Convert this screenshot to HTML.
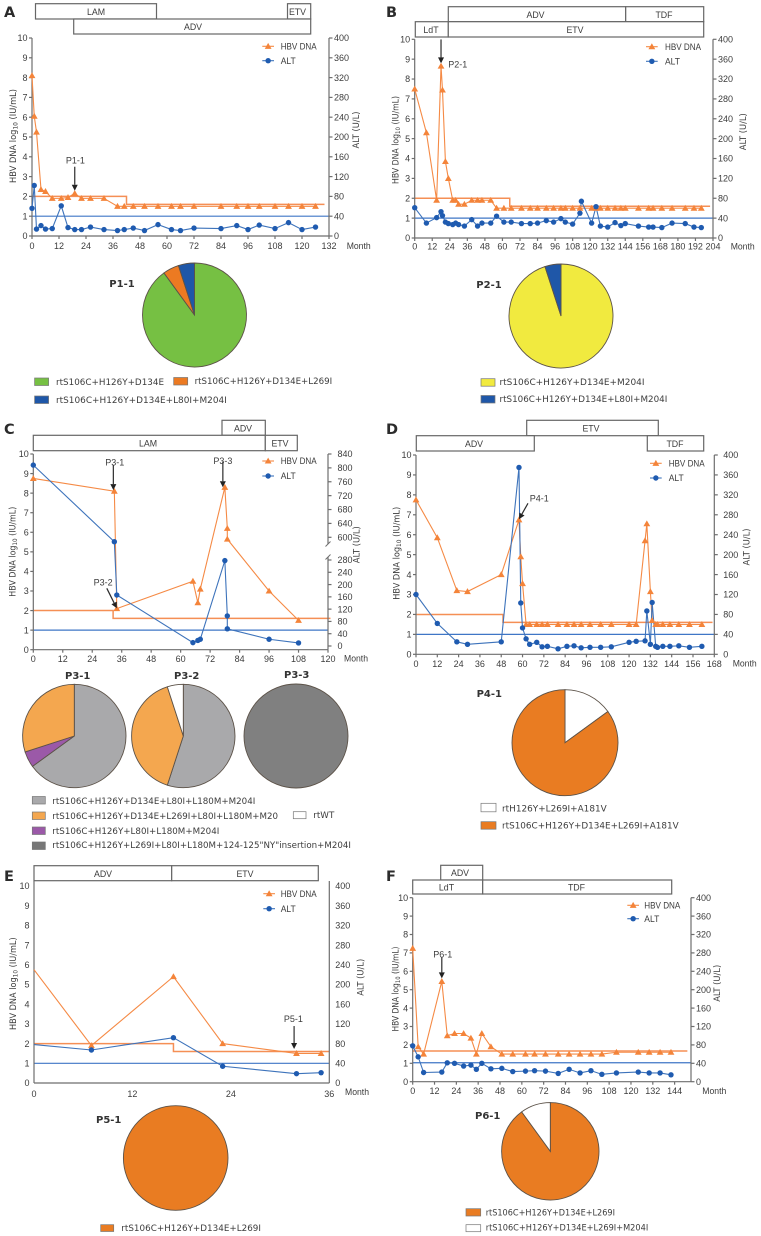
<!DOCTYPE html>
<html lang="en">
<head>
<meta charset="utf-8">
<title>HBV DNA and ALT time courses with resistance mutation pies</title>
<style>
html,body{margin:0;padding:0;background:#fff;}
svg{display:block;filter:blur(0.3px);}
text{font-family:"DejaVu Sans","Liberation Sans",sans-serif;fill:#3c3c3c;}
.box{fill:#fff;stroke:#666;stroke-width:1.2;}
.tx{font-family:"Liberation Sans",sans-serif;font-size:8.8px;text-anchor:middle;}
.ax{font-family:"Liberation Sans",sans-serif;font-size:9px;}
.letter{font-size:14.5px;font-weight:bold;fill:#2b2b2b;}
.pt{font-size:10px;font-weight:bold;text-anchor:middle;fill:#333;}
.lg{font-size:9px;}
.sw{stroke:#777;stroke-width:.7;}
</style>
</head>
<body>
<svg id="fig" width="761" height="1236" viewBox="0 0 761 1236" xmlns="http://www.w3.org/2000/svg">
  <rect x="0" y="0" width="761" height="1236" fill="#fff"/>

  <text class="letter" x="4" y="17">A</text>
  <text class="letter" x="386" y="17">B</text>
  <text class="letter" x="4" y="434">C</text>
  <text class="letter" x="386" y="434">D</text>
  <text class="letter" x="4" y="881">E</text>
  <text class="letter" x="386" y="881">F</text>

  <!-- Treatment bars -->
  <g>
    <rect class="box" x="35.5" y="3.7" width="121" height="15.3"/>
    <text class="tx" x="96" y="14.8">LAM</text>
    <rect class="box" x="287.5" y="3.7" width="23.2" height="15.3"/>
    <text class="tx" x="297.5" y="14.8">ETV</text>
    <rect class="box" x="73.7" y="19" width="237" height="15"/>
    <text class="tx" x="193" y="30.2">ADV</text>
  </g>
  <g>
    <rect class="box" x="448.3" y="6.7" width="177.4" height="15"/>
    <text class="tx" x="535.5" y="17.8">ADV</text>
    <rect class="box" x="625.7" y="6.7" width="78" height="15"/>
    <text class="tx" x="664" y="17.8">TDF</text>
    <rect class="box" x="415.3" y="21.7" width="33" height="15.3"/>
    <text class="tx" x="431" y="32.8">LdT</text>
    <rect class="box" x="448.3" y="21.7" width="255.4" height="15.3"/>
    <text class="tx" x="575" y="32.8">ETV</text>
  </g>
  <g>
    <rect class="box" x="222" y="420.3" width="43.3" height="15"/>
    <text class="tx" x="243" y="431.3">ADV</text>
    <rect class="box" x="33.3" y="435.3" width="232" height="15.4"/>
    <text class="tx" x="148" y="446.3">LAM</text>
    <rect class="box" x="265.3" y="435.3" width="32" height="15.4"/>
    <text class="tx" x="280" y="446.3">ETV</text>
  </g>
  <g>
    <rect class="box" x="526.7" y="420.3" width="131.6" height="15.4"/>
    <text class="tx" x="591" y="431.3">ETV</text>
    <rect class="box" x="416.3" y="435.7" width="118" height="15.3"/>
    <text class="tx" x="474" y="447.2">ADV</text>
    <rect class="box" x="647.3" y="435.7" width="56.4" height="15.3"/>
    <text class="tx" x="675" y="447.2">TDF</text>
  </g>
  <g>
    <rect class="box" x="34" y="865.7" width="137.7" height="15"/>
    <text class="tx" x="103" y="877">ADV</text>
    <rect class="box" x="171.7" y="865.7" width="146.6" height="15"/>
    <text class="tx" x="245" y="877">ETV</text>
  </g>
  <g>
    <rect class="box" x="440.7" y="865.3" width="42" height="14.7"/>
    <text class="tx" x="460" y="876">ADV</text>
    <rect class="box" x="412.7" y="880" width="70" height="14"/>
    <text class="tx" x="446.5" y="890.3">LdT</text>
    <rect class="box" x="482.7" y="880" width="189" height="14"/>
    <text class="tx" x="576.5" y="890.3">TDF</text>
  </g>

  <!-- Pie titles -->
  <text class="pt" x="122" y="287">P1-1</text>
  <text class="pt" x="489" y="288">P2-1</text>
  <text class="pt" x="77.7" y="679">P3-1</text>
  <text class="pt" x="186.7" y="679">P3-2</text>
  <text class="pt" x="296.7" y="678">P3-3</text>
  <text class="pt" x="489.3" y="697">P4-1</text>
  <text class="pt" x="108.7" y="1123">P5-1</text>
  <text class="pt" x="487.7" y="1119">P6-1</text>

  <!-- Pie legends -->
  <g>
    <rect class="sw" x="34.6" y="378" width="14" height="7.5" fill="#76c043"/>
    <text class="lg" x="56" y="385" textLength="108" lengthAdjust="spacingAndGlyphs">rtS106C+H126Y+D134E</text>
    <rect class="sw" x="173.7" y="377.5" width="14" height="7.5" fill="#ec7a22"/>
    <text class="lg" x="194.6" y="384" textLength="137.6" lengthAdjust="spacingAndGlyphs">rtS106C+H126Y+D134E+L269I</text>
    <rect class="sw" x="34.6" y="396" width="14" height="7.5" fill="#1f57a8"/>
    <text class="lg" x="56" y="403" textLength="170.8" lengthAdjust="spacingAndGlyphs">rtS106C+H126Y+D134E+L80I+M204I</text>
  </g>
  <g>
    <rect class="sw" x="481" y="378.7" width="14" height="7.5" fill="#f1ea3f"/>
    <text class="lg" x="499.5" y="385" textLength="145" lengthAdjust="spacingAndGlyphs">rtS106C+H126Y+D134E+M204I</text>
    <rect class="sw" x="481" y="395.5" width="14" height="7.5" fill="#1f57a8"/>
    <text class="lg" x="499.5" y="402" textLength="167.8" lengthAdjust="spacingAndGlyphs">rtS106C+H126Y+D134E+L80I+M204I</text>
  </g>
  <g>
    <rect class="sw" x="32.3" y="796.5" width="13" height="7.5" fill="#a9a9ab"/>
    <text class="lg" x="52.3" y="804" textLength="203" lengthAdjust="spacingAndGlyphs">rtS106C+H126Y+D134E+L80I+L180M+M204I</text>
    <rect class="sw" x="32.3" y="812" width="13" height="7.5" fill="#f4a74f"/>
    <text class="lg" x="52.3" y="819" textLength="225.7" lengthAdjust="spacingAndGlyphs">rtS106C+H126Y+D134E+L269I+L80I+L180M+M20</text>
    <rect class="sw" x="293.3" y="811.7" width="12.7" height="7" fill="#fff"/>
    <text class="lg" x="313.3" y="818" textLength="21" lengthAdjust="spacingAndGlyphs">rtWT</text>
    <rect class="sw" x="32.3" y="827" width="13" height="7.5" fill="#9b59a8"/>
    <text class="lg" x="52.3" y="834" textLength="167" lengthAdjust="spacingAndGlyphs">rtS106C+H126Y+L80I+L180M+M204I</text>
    <rect class="sw" x="32.3" y="842" width="13" height="7.5" fill="#777"/>
    <text class="lg" x="52.3" y="848" textLength="298.7" lengthAdjust="spacingAndGlyphs">rtS106C+H126Y+L269I+L80I+L180M+124-125"NY"insertion+M204I</text>
  </g>
  <g>
    <rect class="sw" x="481" y="803.3" width="15" height="8.5" fill="#fff"/>
    <text class="lg" x="502" y="811.7" textLength="104.7" lengthAdjust="spacingAndGlyphs">rtH126Y+L269I+A181V</text>
    <rect class="sw" x="481" y="821.7" width="15" height="7.5" fill="#e97c22"/>
    <text class="lg" x="502" y="828.7" textLength="176.7" lengthAdjust="spacingAndGlyphs">rtS106C+H126Y+D134E+L269I+A181V</text>
  </g>
  <g>
    <rect class="sw" x="100.7" y="1224.7" width="13" height="6.8" fill="#e97c22"/>
    <text class="lg" x="121.3" y="1231" textLength="139.7" lengthAdjust="spacingAndGlyphs">rtS106C+H126Y+D134E+L269I</text>
  </g>
  <g>
    <rect class="sw" x="466" y="1208.7" width="14.7" height="7.3" fill="#e97c22"/>
    <text class="lg" x="485.7" y="1215.3" textLength="129.3" lengthAdjust="spacingAndGlyphs">rtS106C+H126Y+D134E+L269I</text>
    <rect class="sw" x="466" y="1224.7" width="14.7" height="7" fill="#fff"/>
    <text class="lg" x="485.7" y="1230.7" textLength="162.6" lengthAdjust="spacingAndGlyphs">rtS106C+H126Y+D134E+L269I+M204I</text>
  </g>
</svg>

<script>
// ---------- Axis tick values ----------
const hbvTicks = [0,1,2,3,4,5,6,7,8,9,10];
const altTicks400 = [0,40,80,120,160,200,240,280,320,360,400];
const altTicksLowC = [0,40,80,120,160,200,240,280];
const altTicksHighC = [600,640,680,720,760,800,840];
const monthTicksA = [0,12,24,36,48,60,72,84,96,108,120,132];
const monthTicksB = [0,12,24,36,48,60,72,84,96,108,120,132,144,156,168,180,192,204];
const monthTicksC = [0,12,24,36,48,60,72,84,96,108,120];
const monthTicksD = [0,12,24,36,48,60,72,84,96,108,120,132,144,156,168];
const monthTicksE = [0,12,24,36];
const monthTicksF = [0,12,24,36,48,60,72,84,96,108,120,132,144];

// ---------- Panel A ----------
const monthsA = [0,1,2,4,6,9,13,16,19,22,26,32,38,41,45,50,56,62,66,72,84,91,96,101,108,114,120,126];
const hbvA = [8.1,6.05,5.25,2.35,2.25,1.9,1.9,1.95,2.15,1.9,1.9,1.9,1.5,1.5,1.5,1.5,1.5,1.5,1.5,1.5,1.5,1.5,1.5,1.5,1.5,1.5,1.5,1.5];
const altMonthsA = [0,1,2,4,6,9,13,16,19,22,26,32,38,41,45,50,56,62,66,72,84,91,96,101,108,114,120,126];
const altA = [56,102,14,21,14,15,61,17,13,13,18,13,11,13,16,11,23,13,11,16,15,21,13,22,15,27,13,18];
const refMonthsA = [0,42,42,130];
const refHbvA = [2,2,1.6,1.6];
const uln = 1;

// ---------- Panel B ----------
const monthsB = [0,8,15,18,19,21,23,26,28,30,34,39,43,46,52,56,61,66,73,79,84,90,95,100,103,108,113,121,124,127,132,137,141,144,153,160,163,169,176,185,191,196];
const hbvB = [7.5,5.3,1.9,8.65,7.45,3.85,3.0,1.9,1.9,1.7,1.7,1.9,1.9,1.9,1.9,1.5,1.5,1.5,1.5,1.5,1.5,1.5,1.5,1.5,1.5,1.5,1.5,1.5,1.5,1.5,1.5,1.5,1.5,1.5,1.5,1.5,1.5,1.5,1.5,1.5,1.5,1.5];
const altMonthsB = [0,8,15,18,19,21,23,26,28,30,34,39,43,46,52,56,61,66,73,79,84,90,95,100,103,108,113,114,121,124,127,132,137,141,144,153,160,163,169,176,185,191,196];
const altB = [61,30,41,53,45,32,29,27,30,27,24,37,24,30,30,44,32,32,29,29,30,35,32,39,32,28,50,74,30,63,24,22,31,25,29,24,22,22,21,30,29,22,21];
const refMonthsB = [0,65,65,202];
const refHbvB = [2,2,1.6,1.6];

// ---------- Panel C ----------
const monthsC = [0,33,34,65,67,68,78,79,79,96,108];
const hbvC = [8.75,8.1,2.1,3.5,2.4,3.1,8.3,6.2,5.65,3.0,1.5];
const altMonthsC = [0,33,34,65,67,68,78,79,79,96,108];
const altC = [808,538,166,11,18,22,278,98,56,22,10];
const refMonthsC = [0,32.5,32.5,121];
const refHbvC = [2,2,1.6,1.6];

// ---------- Panel D ----------
const monthsD = [0,12,23,29,48,58,59,60,62,64,68,71,74,80,85,89,93,98,104,110,120,124,129,130,132,133,135,136,139,143,148,154,161];
const hbvD = [7.75,5.85,3.2,3.15,4.0,6.75,4.9,3.55,1.5,1.5,1.5,1.5,1.5,1.5,1.5,1.5,1.5,1.5,1.5,1.5,1.5,1.5,5.7,6.55,3.15,1.7,1.5,1.5,1.5,1.5,1.5,1.5,1.5];
const altMonthsD = [0,12,23,29,48,58,59,60,62,64,68,71,74,80,85,89,93,98,104,110,120,124,129,130,132,133,135,136,139,143,148,154,161];
const altD = [120,62,25,20,25,375,103,53,31,20,24,15,16,11,16,17,13,14,14,15,24,26,27,87,20,104,16,14,16,16,17,14,16];
const refMonthsD = [0,49,49,167];
const refHbvD = [2,2,1.6,1.6];

// ---------- Panel E ----------
const monthsE = [0,7,17,23,32,35];
const hbvE = [5.75,1.9,5.4,2.0,1.5,1.5];
const altMonthsE = [0,7,17,23,32,35];
const altE = [78,67,92,34,19,21];
const refMonthsE = [0,17,17,36];
const refHbvE = [2,2,1.6,1.6];

// ---------- Panel F ----------
const monthsF = [0,3,6,16,19,23,28,32,35,38,43,49,55,62,67,73,80,86,92,98,104,112,124,130,136,142];
const hbvF = [7.25,1.9,1.5,5.45,2.5,2.62,2.62,2.37,1.5,2.62,1.9,1.5,1.5,1.5,1.5,1.5,1.5,1.5,1.5,1.5,1.5,1.6,1.6,1.6,1.6,1.6];
const altMonthsF = [0,3,6,16,19,23,28,32,35,38,43,49,55,62,67,73,80,86,92,98,104,112,124,130,136,142];
const altF = [78,54,20,21,41,40,34,36,27,40,28,29,22,23,24,23,18,27,19,24,16,19,21,19,19,15];
const refMonthsF = [0,151];
const refHbvF = [1.67,1.67];

// ---------- Pie shares (percent, clockwise from 12 o'clock) ----------
const pieP11 = [90,5,5];
const pieP21 = [95,5];
const pieP31 = [65,5,30];
const pieP32 = [55,40,5];
const pieP33 = [100];
const pieP41 = [15,85];
const pieP51 = [100];
const pieP61 = [90,10];

const svg = document.getElementById('fig');
const SVGNS = 'http://www.w3.org/2000/svg';
function add(parent, tag, attrs, text) {
  const el = document.createElementNS(SVGNS, tag);
  for (const k in attrs) el.setAttribute(k, attrs[k]);
  if (text !== undefined) el.textContent = text;
  parent.appendChild(el);
  return el;
}

const AXIS = '#6e6e6e';
const AXW = 1.2;
const ORANGE = '#f4843a';
const BLUE = '#1f5bb0';

function linear(d0, d1, r0, r1) {
  return v => r0 + (v - d0) * (r1 - r0) / (d1 - d0);
}
function polyline(scaleX, scaleY, xs, ys) {
  return xs.map((m, i) => scaleX(m).toFixed(2) + ',' + scaleY(ys[i]).toFixed(2)).join(' ');
}
function triangle(x, y) {
  const r = 3.4;
  return [(x) + ',' + (y - r), (x + r) + ',' + (y + r * 0.75), (x - r) + ',' + (y + r * 0.75)].join(' ');
}

function drawPanel(p) {
  const g = add(svg, 'g', {});
  
  

  const sx = linear(0, p.xMax, p.x0, p.x1);
  const sy = linear(0, 10, p.yBottom, p.yTop);
  const sa = p.altScale;

  // reference lines
  const refH = add(g, 'polyline', {points: polyline(sx, sy, p.refMonths, p.refHbv), fill: 'none', stroke: '#f58f55', 'stroke-width': 1.5});
  
  
  const refA = add(g, 'line', {x1: p.x0, x2: p.x1, y1: sy(p.uln), y2: sy(p.uln), stroke: '#3f76c6', 'stroke-width': 1.2});
  
  

  // axes
  const ax = add(g, 'line', {x1: p.x0, x2: p.x1, y1: p.yBottom, y2: p.yBottom, stroke: AXIS, 'stroke-width': AXW});
  
  
  const ay = add(g, 'line', {x1: p.x0, x2: p.x0, y1: p.axisTop, y2: p.yBottom, stroke: AXIS, 'stroke-width': AXW});
  
  

  if (p.breakAxis) {
    const a1 = add(g, 'line', {x1: p.x1, x2: p.x1, y1: p.axisTop, y2: p.breakTop, stroke: AXIS, 'stroke-width': AXW});
    
    
    const a2 = add(g, 'line', {x1: p.x1, x2: p.x1, y1: p.breakBottom, y2: p.yBottom, stroke: AXIS, 'stroke-width': AXW});
    
    
    [p.breakTop, p.breakBottom].forEach(y => {
      const s = add(g, 'line', {x1: p.x1 - 2.5, x2: p.x1 + 2.5, y1: y + 2.5, y2: y - 2.5, stroke: AXIS, 'stroke-width': 1});
      
      
    });
  } else {
    const a3 = add(g, 'line', {x1: p.x1, x2: p.x1, y1: p.axisTop, y2: p.yBottom, stroke: AXIS, 'stroke-width': AXW});
    
    
  }

  // ticks + labels
  p.hbvTicks.forEach(v => {
    if (p.ticks) {
      const t = add(g, 'line', {x1: p.x0 - 3, x2: p.x0, y1: sy(v), y2: sy(v), stroke: AXIS, 'stroke-width': AXW});
      
      
    }
    const l = add(g, 'text', {x: p.x0 - 4.5, y: sy(v) + 3.2, 'text-anchor': 'end', class: 'ax'}, String(v));
    
    
  });
  p.altTicks.forEach(v => {
    if (p.ticks) {
      const t = add(g, 'line', {x1: p.x1, x2: p.x1 + 3.5, y1: sa(v), y2: sa(v), stroke: AXIS, 'stroke-width': AXW});
      
      
    }
    const l = add(g, 'text', {x: p.x1 + p.rightGap, y: sa(v) + 3.2, class: 'ax'}, String(v));
    
    
  });
  p.monthTicks.forEach(v => {
    if (p.ticks) {
      const t = add(g, 'line', {x1: sx(v), x2: sx(v), y1: p.yBottom, y2: p.yBottom + 3, stroke: AXIS, 'stroke-width': AXW});
      
      
    }
    const l = add(g, 'text', {x: sx(v), y: p.xLabelY + 3.2, 'text-anchor': 'middle', class: 'ax'}, String(v));
    
    
  });
  const mo = add(g, 'text', {x: p.monthX, y: p.monthY + 3.2, class: 'ax', textLength: 24, lengthAdjust: 'spacingAndGlyphs'}, 'Month');
  
  

  // axis titles
  const lt = add(g, 'text', {
    x: p.leftTitleX, y: p.leftTitleY, 'text-anchor': 'middle', 'font-size': 9,
    transform: 'rotate(-90 ' + p.leftTitleX + ' ' + p.leftTitleY + ')',
    textLength: p.leftTitleLen, lengthAdjust: 'spacingAndGlyphs'
  });
  
  
  add(lt, 'tspan', {}, 'HBV DNA log');
  add(lt, 'tspan', {'font-size': 6.4, dy: 1.5}, '10');
  add(lt, 'tspan', {dy: -1.5}, ' (IU/mL)');
  const rt = add(g, 'text', {
    x: p.rightTitleX, y: p.rightTitleY, 'text-anchor': 'middle', 'font-size': 9,
    transform: 'rotate(-90 ' + p.rightTitleX + ' ' + p.rightTitleY + ')',
    textLength: 37, lengthAdjust: 'spacingAndGlyphs'
  }, 'ALT (U/L)');
  
  

  // series lines
  const lineH = add(g, 'polyline', {points: polyline(sx, sy, p.months, p.hbv), fill: 'none', stroke: '#f58a45', 'stroke-width': 1.1});
  
  
  const lineA = add(g, 'polyline', {points: polyline(sx, sa, p.altMonths, p.alt), fill: 'none', stroke: '#3d73bb', 'stroke-width': 1.1});
  
  

  // series markers
  p.months.forEach((m, i) => {
    if (p.skipFirstMarker && i === 0) return;
    const t = add(g, 'polygon', {points: triangle(sx(m), sy(p.hbv[i])), fill: ORANGE});
    
    
  });
  p.altMonths.forEach((m, i) => {
    if (p.skipFirstMarker && i === 0) return;
    const c = add(g, 'circle', {cx: sx(m), cy: sa(p.alt[i]), r: 2.7, fill: BLUE});
    
    
  });

  // in-chart legend
  const lh1 = add(g, 'line', {x1: p.legX, x2: p.legX + 11.7, y1: p.legY1, y2: p.legY1, stroke: '#f58a45', 'stroke-width': 1.1});
  
  
  const lh2 = add(g, 'polygon', {points: triangle(p.legX + 5.85, p.legY1), fill: ORANGE});
  
  
  const lh3 = add(g, 'text', {x: p.legText, y: p.legY1 + 3.2, class: 'ax', textLength: 36, lengthAdjust: 'spacingAndGlyphs'}, 'HBV DNA');
  
  
  const la1 = add(g, 'line', {x1: p.legX, x2: p.legX + 11.7, y1: p.legY2, y2: p.legY2, stroke: '#3d73bb', 'stroke-width': 1.1});
  
  
  const la2 = add(g, 'circle', {cx: p.legX + 5.85, cy: p.legY2, r: 2.7, fill: BLUE});
  
  
  const la3 = add(g, 'text', {x: p.legText, y: p.legY2 + 3.2, class: 'ax', textLength: 15, lengthAdjust: 'spacingAndGlyphs'}, 'ALT');
  
  

  // sample arrows, anchored on the sampled HBV point
  p.notes.forEach(n => {
    const tx = sx(n.month) + (n.dxTip || 0);
    const ty = sy(n.value) - n.gap;
    const fx = tx + n.dx, fy = ty + n.dy;
    const len = Math.hypot(n.dx, n.dy);
    const ux = n.dx / len, uy = n.dy / len;
    const h = 6, w = 3;
    const shaft = add(g, 'line', {x1: fx, y1: fy, x2: tx + ux * h, y2: ty + uy * h, stroke: '#2c2c2c', 'stroke-width': 1.2});
    
    
    const bx = tx + ux * h, by = ty + uy * h;
    const head = add(g, 'polygon', {points: tx + ',' + ty + ' ' + (bx - uy * w) + ',' + (by + ux * w) + ' ' + (bx + uy * w) + ',' + (by - ux * w), fill: '#222'});
    
    
    const lab = add(g, 'text', {x: tx + n.labelDx, y: ty + n.labelDy + 3.2, 'text-anchor': 'middle', class: 'ax'}, n.label);
    
    
  });
}

function drawPie(id, shares, colors, cx, cy, r) {
  const g = add(svg, 'g', {});
  
  
  const total = shares.reduce((a, b) => a + b, 0);
  let acc = 0;
  shares.forEach((s, i) => {
    if (s >= total) {
      const whole = add(g, 'circle', {cx: cx, cy: cy, r: r, fill: colors[i], stroke: '#5c5248', 'stroke-width': 0.9});
      
      
      return;
    }
    const a0 = acc / total * 2 * Math.PI;
    acc += s;
    const a1 = acc / total * 2 * Math.PI;
    const d = 'M' + cx + ' ' + cy +
      'L' + (cx + r * Math.sin(a0)) + ' ' + (cy - r * Math.cos(a0)) +
      'A' + r + ' ' + r + ' 0 ' + (a1 - a0 > Math.PI ? 1 : 0) + ' 1 ' + (cx + r * Math.sin(a1)) + ' ' + (cy - r * Math.cos(a1)) + 'Z';
    const sl = add(g, 'path', {d: d, fill: colors[i], stroke: '#5c5248', 'stroke-width': 0.9});
    
    
  });
}

// Broken ALT axis in panel C
const cLow = linear(0, 280, 646, 560);
const cMid = linear(280, 600, 560, 537.3);
const cHigh = linear(600, 840, 537.3, 454);
function altScaleC(v) { return v <= 280 ? cLow(v) : v <= 600 ? cMid(v) : cHigh(v); }

drawPanel({
  id: 'a', x0: 32, x1: 329, xMax: 132, yBottom: 236, yTop: 38, axisTop: 38, ticks: true, rightGap: 5,
  altScale: linear(0, 400, 236, 38), hbvTicks: hbvTicks, altTicks: altTicks400, monthTicks: monthTicksA,
  months: monthsA, hbv: hbvA, altMonths: altMonthsA, alt: altA, refMonths: refMonthsA, refHbv: refHbvA, uln: uln,
  xLabelY: 246, monthX: 346.7, monthY: 246,
  leftTitleX: 16, leftTitleY: 136, leftTitleLen: 94, rightTitleX: 359, rightTitleY: 130,
  legX: 262.3, legY1: 46.3, legY2: 60.7, legText: 280.7,
  notes: [{month: 19, value: 2.15, gap: 2.7, dx: 0, dy: -24, label: 'P1-1', labelDx: 0.6, labelDy: -30.4}]
});
drawPanel({
  id: 'b', x0: 414.7, x1: 713, xMax: 204, yBottom: 238, yTop: 39.3, axisTop: 39.3, ticks: true, rightGap: 5,
  altScale: linear(0, 400, 238, 39.3), hbvTicks: hbvTicks, altTicks: altTicks400, monthTicks: monthTicksB,
  months: monthsB, hbv: hbvB, altMonths: altMonthsB, alt: altB, refMonths: refMonthsB, refHbv: refHbvB, uln: uln,
  xLabelY: 246.3, monthX: 730.7, monthY: 246.3,
  leftTitleX: 398.7, leftTitleY: 140, leftTitleLen: 88, rightTitleX: 746, rightTitleY: 131.7,
  legX: 646, legY1: 46.7, legY2: 61.3, legText: 665,
  notes: [{month: 18, value: 8.65, gap: 2.7, dx: 0, dy: -24, label: 'P2-1', labelDx: 16.7, labelDy: 0.7}]
});
drawPanel({
  id: 'c', x0: 33.3, x1: 328, xMax: 120, yBottom: 649.7, yTop: 454, axisTop: 454, ticks: true, rightGap: 9.5,
  altScale: altScaleC, hbvTicks: hbvTicks, altTicks: altTicksLowC.concat(altTicksHighC), monthTicks: monthTicksC,
  breakAxis: true, breakTop: 544, breakBottom: 557,
  months: monthsC, hbv: hbvC, altMonths: altMonthsC, alt: altC, refMonths: refMonthsC, refHbv: refHbvC, uln: uln,
  xLabelY: 659, monthX: 344, monthY: 658.3,
  leftTitleX: 15.5, leftTitleY: 551.7, leftTitleLen: 90, rightTitleX: 359.5, rightTitleY: 544.7,
  legX: 262.3, legY1: 461, legY2: 476, legText: 280.7,
  notes: [
    {month: 33, value: 8.1, gap: 1, dxTip: -1, dx: 0, dy: -25, label: 'P3-1', labelDx: 1.4, labelDy: -27.7},
    {month: 34, value: 2.1, gap: 0.3, dx: -10, dy: -20, label: 'P3-2', labelDx: -13.7, labelDy: -26},
    {month: 78, value: 8.3, gap: 0, dxTip: -2, dx: 0, dy: -25.6, label: 'P3-3', labelDx: 0, labelDy: -26.3}
  ]
});
drawPanel({
  id: 'd', x0: 416, x1: 714.3, xMax: 168, yBottom: 654.3, yTop: 455, axisTop: 455, ticks: true, rightGap: 9,
  altScale: linear(0, 400, 654.3, 455), hbvTicks: hbvTicks, altTicks: altTicks400, monthTicks: monthTicksD,
  months: monthsD, hbv: hbvD, altMonths: altMonthsD, alt: altD, refMonths: refMonthsD, refHbv: refHbvD, uln: uln,
  xLabelY: 664, monthX: 732.7, monthY: 663.3,
  leftTitleX: 399.5, leftTitleY: 553.3, leftTitleLen: 93, rightTitleX: 749.5, rightTitleY: 547,
  legX: 650, legY1: 463.3, legY2: 478, legText: 668.7,
  notes: [{month: 58, value: 6.75, gap: 0.5, dx: 9, dy: -16, label: 'P4-1', labelDx: 20.3, labelDy: -21}]
});
drawPanel({
  id: 'e', x0: 34, x1: 329.3, xMax: 36, yBottom: 1083, yTop: 886, axisTop: 881, ticks: false, rightGap: 6,
  altScale: linear(0, 400, 1083, 886), hbvTicks: hbvTicks, altTicks: altTicks400, monthTicks: monthTicksE,
  months: monthsE, hbv: hbvE, altMonths: altMonthsE, alt: altE, refMonths: refMonthsE, refHbv: refHbvE, uln: uln,
  skipFirstMarker: true,
  xLabelY: 1094, monthX: 345, monthY: 1092,
  leftTitleX: 16, leftTitleY: 983.7, leftTitleLen: 92.7, rightTitleX: 363.5, rightTitleY: 977.3,
  legX: 263.3, legY1: 893.7, legY2: 908.7, legText: 280.7,
  notes: [{month: 32, value: 1.5, gap: 4.4, dxTip: -2.4, dx: 0, dy: -23, label: 'P5-1', labelDx: -0.7, labelDy: -30.3}]
});
drawPanel({
  id: 'f', x0: 412.7, x1: 691, xMax: 153, yBottom: 1081.7, yTop: 897.7, axisTop: 897.7, ticks: true, rightGap: 5,
  altScale: linear(0, 400, 1081.7, 897.7), hbvTicks: hbvTicks, altTicks: altTicks400, monthTicks: monthTicksF,
  months: monthsF, hbv: hbvF, altMonths: altMonthsF, alt: altF, refMonths: refMonthsF, refHbv: refHbvF, uln: 1.03,
  xLabelY: 1091, monthX: 702.3, monthY: 1090.7,
  leftTitleX: 398.7, leftTitleY: 989, leftTitleLen: 85, rightTitleX: 720, rightTitleY: 983.3,
  legX: 627.3, legY1: 905.3, legY2: 918.7, legText: 644.3,
  notes: [{month: 16, value: 5.45, gap: 3, dx: 0, dy: -21, label: 'P6-1', labelDx: 1, labelDy: -24.3}]
});

drawPie('p1-1', pieP11, ['#76c043','#ec7a22','#1f57a8'], 194.5, 315, 52);
drawPie('p2-1', pieP21, ['#f1ea3f','#1f57a8'], 561, 316, 52);
drawPie('p3-1', pieP31, ['#a9a9ab','#9b59a8','#f4a74f'], 74.3, 736, 51.7);
drawPie('p3-2', pieP32, ['#a9a9ab','#f4a74f','#fff'], 183.3, 736, 51.7);
drawPie('p3-3', pieP33, ['#808080'], 296, 736, 52);
drawPie('p4-1', pieP41, ['#fff','#e97c22'], 565, 742.7, 53);
drawPie('p5-1', pieP51, ['#e97c22'], 175.7, 1158, 52.3);
drawPie('p6-1', pieP61, ['#e97c22','#fff'], 550.3, 1151.3, 48.7);
</script>
</body>
</html>
